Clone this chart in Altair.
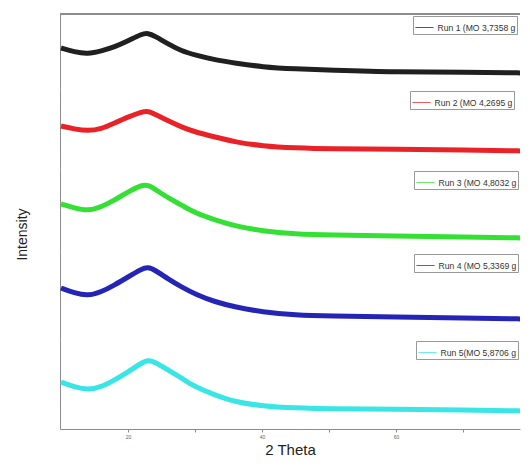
import altair as alt
import pandas as pd

# 2-theta sample positions (degrees)
two_theta = [10, 12, 14, 16, 18, 20, 22, 23, 24, 26, 28, 30, 33, 36, 40, 45, 50, 60, 70, 79.7]

# Relative intensity (a.u.) of each run
run1 = [41, 37, 35, 38, 42, 48, 55, 56, 53, 45, 38, 34, 29, 26, 22, 20, 19, 17, 17, 16]
run2 = [43, 40, 38, 40, 46, 52, 57, 58, 55, 48, 42, 37, 32, 27, 23, 21, 20, 20, 19, 18]
run3 = [48, 44, 41, 45, 52, 60, 67, 67, 63, 54, 47, 39, 32, 26, 21, 18, 17, 16, 15, 14]
run4 = [51, 46, 43, 47, 54, 62, 70, 72, 69, 60, 52, 45, 37, 32, 27, 24, 23, 22, 21, 20]
run5 = [47, 42, 39, 42, 49, 57, 66, 69, 67, 59, 51, 42, 34, 27, 23, 21, 20, 20, 19, 18]

# legend texts as visible (cut at the right edge of the figure)
labels = [
    "Run 1 (MO 3,7358 g",
    "Run 2 (MO 4,2695 g",
    "Run 3 (MO 4,8032 g",
    "Run 4 (MO 5,3369 g",
    "Run 5(MO 5,8706 g",
]
series = [run1, run2, run3, run4, run5]

# styling / layout (not data)
colors = ["#141414", "#e8161b", "#2ade2a", "#1818b2", "#2ee4e4"]
panel_h = [75, 80, 83, 87, 90]
legend_x = [353, 350, 354, 354, 356]
PLOT_W = 460
GRAY = "#8c8c8c"

xscale = alt.Scale(domain=[9.85, 78.5], nice=False, zero=False)

panels = []
for i, (lab, vals) in enumerate(zip(labels, series)):
    df = pd.DataFrame({"theta": two_theta, "intensity": vals, "run": lab})
    if i == 4:
        xaxis = alt.Axis(values=[20, 30, 40, 50, 60, 70],
                         labelExpr="datum.value % 20 == 0 ? datum.label : ''",
                         tickSize=3, tickColor=GRAY, domainColor=GRAY, grid=False,
                         labelFontSize=5, labelColor="#666", labelPadding=2,
                         title="2 Theta", titleFontSize=15, titleFontWeight="normal",
                         titleFont="Liberation Sans", titleColor="#222", titlePadding=3)
    else:
        xaxis = None
    yaxis = alt.Axis(labels=False, ticks=False, grid=False, domainColor=GRAY,
                     domainWidth=1,
                     title="Intensity" if i == 2 else None,
                     titleFontSize=14, titleFontWeight="normal",
                     titleFont="Liberation Sans", titleColor="#222",
                     titlePadding=31, titleY=65)
    legend = alt.Legend(orient="none", legendX=legend_x[i], legendY=2, title=None,
                        symbolType="stroke", symbolStrokeWidth=1, symbolSize=330,
                        symbolOpacity=0.7, labelFontSize=8.6,
                        labelFont="Liberation Sans", labelColor="#333",
                        strokeColor="#999", fillColor="white", padding=1.5,
                        labelOffset=3, labelLimit=100)
    line = alt.Chart(df).mark_line(clip=True, strokeWidth=5, opacity=0.95,
                                   interpolate="basis").encode(
        x=alt.X("theta:Q", scale=xscale, axis=xaxis),
        y=alt.Y("intensity:Q", scale=alt.Scale(domain=[0, panel_h[i]], nice=False, zero=False),
                axis=yaxis),
        color=alt.Color("run:N", scale=alt.Scale(domain=[lab], range=[colors[i]]),
                        legend=legend),
    )
    if i == 0:
        frame_top = alt.Chart(df).mark_rule(color=GRAY, strokeWidth=1).encode(
            y=alt.value(0))
        ch = alt.layer(frame_top, line)
    else:
        ch = line
    panels.append(ch.properties(width=PLOT_W, height=panel_h[i]))

chart = alt.vconcat(*panels, spacing=0, bounds="flush").resolve_scale(
    color="independent", y="independent"
).resolve_legend(color="independent").properties(
    padding={"left": 7, "top": 5, "right": 0, "bottom": 0}
).configure_view(stroke=None)

chart.save("out.html", embed_options={"renderer": "svg", "actions": False})
